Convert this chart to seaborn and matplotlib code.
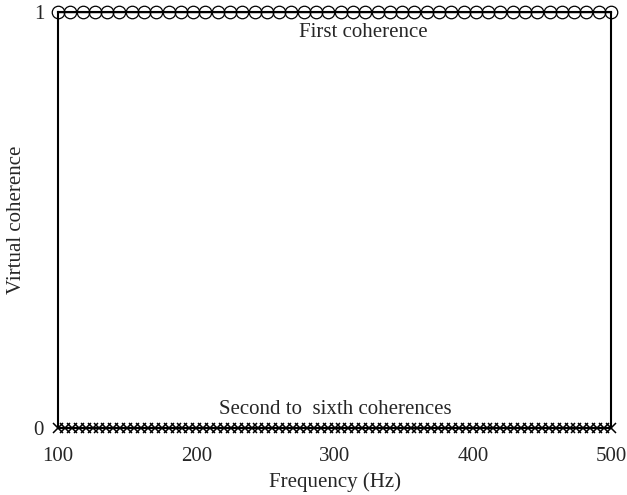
import matplotlib
matplotlib.use('Agg')
import matplotlib.pyplot as plt
import numpy as np
import pandas as pd
import seaborn as sns

sns.set_style('white')
plt.rcParams['font.family'] = ['Liberation Serif', 'DejaVu Serif']

# Frequency grid of the coherence estimates (Hz)
freq_first = np.linspace(100, 500, 46)
freq_rest = np.linspace(100, 500, 81)

# Virtual coherence values
first_coherence = [1.0] * len(freq_first)
other_coherences = [0.0] * len(freq_rest)

df1 = pd.DataFrame({'freq': freq_first, 'coh': first_coherence})
df2 = pd.DataFrame({'freq': freq_rest, 'coh': other_coherences})

fig = plt.figure(figsize=(6.27, 4.95), dpi=100)
ax = fig.add_axes([0.0925, 0.1354, 0.882, 0.8404])

sns.lineplot(data=df1, x='freq', y='coh', ax=ax, color='black', lw=1,
             marker='o', markersize=9, markerfacecolor='none',
             markeredgecolor='black', markeredgewidth=0.9, clip_on=False)
sns.lineplot(data=df2, x='freq', y='coh', ax=ax, color='black', lw=1.5,
             marker='x', markersize=7, markeredgecolor='black',
             markeredgewidth=1.1, clip_on=False)

ax.set_xlim(100, 500)
ax.set_ylim(0, 1)
ax.set_xticks([100, 200, 300, 400, 500])
ax.set_yticks([0, 1])
ax.tick_params(axis='x', length=0, labelsize=15, pad=14)
ax.tick_params(axis='y', length=0, labelsize=15, pad=10)
for s in ax.spines.values():
    s.set_color('black')
    s.set_linewidth(1.5)

ax.set_xlabel('Frequency (Hz)', fontsize=15, labelpad=4)
ax.set_ylabel('Virtual coherence', fontsize=15)
ax.yaxis.set_label_coords(-0.057, 0.5)

ax.text(320.6, 0.95, 'First coherence', ha='center', va='center', fontsize=15)
ax.text(300.4, 0.044, 'Second to  sixth coherences', ha='center', va='center',
        fontsize=15)

fig.savefig('out.png', dpi=100)
